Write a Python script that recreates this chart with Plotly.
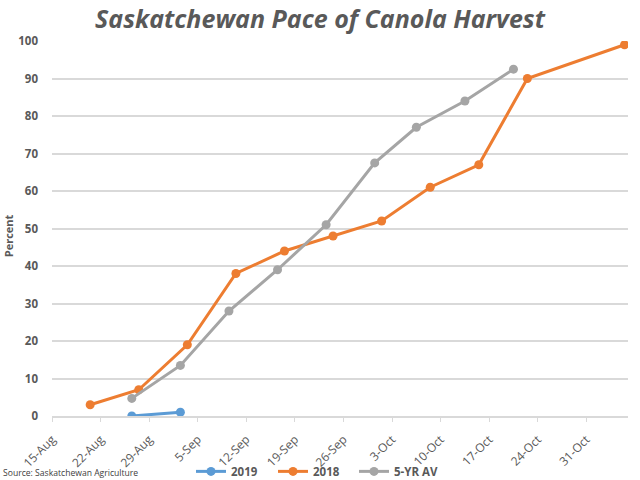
import pandas as pd
import plotly.graph_objects as go

YEAR = 2019
dates_2019 = ["Aug 26", "Sep 2"]
vals_2019 = [0, 1]

dates_2018 = ["Aug 20", "Aug 27", "Sep 3", "Sep 10", "Sep 17", "Sep 24",
              "Oct 1", "Oct 8", "Oct 15", "Oct 22", "Nov 5"]
vals_2018 = [3, 7, 19, 38, 44, 48, 52, 61, 67, 90, 99]

dates_5yr = ["Aug 26", "Sep 2", "Sep 9", "Sep 16", "Sep 23", "Sep 30",
             "Oct 6", "Oct 13", "Oct 20"]
vals_5yr = [4.7, 13.5, 28, 39, 51, 67.5, 77, 84, 92.5]

tick_dates = ["Aug 15", "Aug 22", "Aug 29", "Sep 5", "Sep 12", "Sep 19",
              "Sep 26", "Oct 3", "Oct 10", "Oct 17", "Oct 24", "Oct 31"]


def to_dt(lst, mid=True):
    d = pd.to_datetime([f"{s} {YEAR}" for s in lst], format="%b %d %Y")
    if mid:
        d = d + pd.Timedelta(hours=12)
    return list(d)


colors = {"2019": "#5b9bd5", "2018": "#ed7d31", "5-YR AV": "#a5a5a5"}
font_col = "#595959"

fig = go.Figure()
series = [("2019", dates_2019, vals_2019, "legend"),
          ("2018", dates_2018, vals_2018, "legend2"),
          ("5-YR AV", dates_5yr, vals_5yr, "legend3")]
for name, ds, vs, lg in series:
    fig.add_trace(go.Scatter(
        x=to_dt(ds), y=vs, name=f"<b>{name}</b>", mode="lines+markers",
        line=dict(color=colors[name], width=3),
        marker=dict(color=colors[name], size=9),
        legend=lg,
    ))

leg_common = dict(orientation="h", xanchor="left", y=-0.109, yanchor="top",
                  bgcolor="rgba(0,0,0,0)",
                  font=dict(size=11.5, color=font_col, family="Open Sans"))

tick_vals = to_dt(tick_dates, mid=False)

fig.update_layout(
    width=640, height=480,
    margin=dict(l=52, r=12, t=41, b=64, autoexpand=False),
    paper_bgcolor="white", plot_bgcolor="white",
    font=dict(family="Open Sans", color=font_col),
    title=dict(text="<b><i>Saskatchewan Pace of Canola Harvest</i></b>",
               x=0.5, xanchor="center", y=0.959, yanchor="middle",
               font=dict(size=25, color=font_col, family="Open Sans")),
    showlegend=True,
    legend=dict(x=0.2413, **leg_common),
    legend2=dict(x=0.3837, **leg_common),
    legend3=dict(x=0.5243, **leg_common),
    xaxis=dict(
        type="date", automargin=False,
        range=[to_dt(["Aug 15"], mid=False)[0], to_dt(["Nov 6"], mid=False)[0]],
        tickvals=tick_vals,
        tickformat="%-d-%b", tickangle=-45,
        tickfont=dict(size=12, color=font_col, family="Open Sans"),
        showgrid=False, showline=True, linecolor="#d9d9d9", linewidth=1.5,
        ticks="outside", ticklen=10, tickcolor="rgba(0,0,0,0)",
        minor=dict(tickvals=tick_vals, ticks="outside", ticklen=4,
                   tickcolor="#d9d9d9", showgrid=False),
        zeroline=False,
    ),
    yaxis=dict(
        range=[0, 100], dtick=10, automargin=False,
        tickfont=dict(size=11.5, color=font_col, family="Open Sans"),
        ticklabelstandoff=13,
        showgrid=True, gridcolor="#d9d9d9", gridwidth=1.5,
        zeroline=False, showline=False,
    ),
)
fig.update_xaxes(tickprefix="<b>", ticksuffix="</b>")
fig.update_yaxes(tickprefix="<b>", ticksuffix="</b>")

fig.add_annotation(text="<b>Percent</b>", xref="paper", yref="paper",
                   x=-0.076, y=0.48, xanchor="center", yanchor="middle",
                   textangle=-90, showarrow=False,
                   font=dict(size=11, color=font_col, family="Open Sans"))

fig.add_annotation(text="Source: Saskatchewan Agriculture", xref="paper", yref="paper",
                   x=-0.088, y=-0.151, xanchor="left", yanchor="middle", showarrow=False,
                   font=dict(size=8.6, color="#404040", family="Open Sans"))

fig.write_html("out.html", config={"displayModeBar": False},
               post_script="document.body.style.margin='0';document.body.style.overflow='hidden';")
